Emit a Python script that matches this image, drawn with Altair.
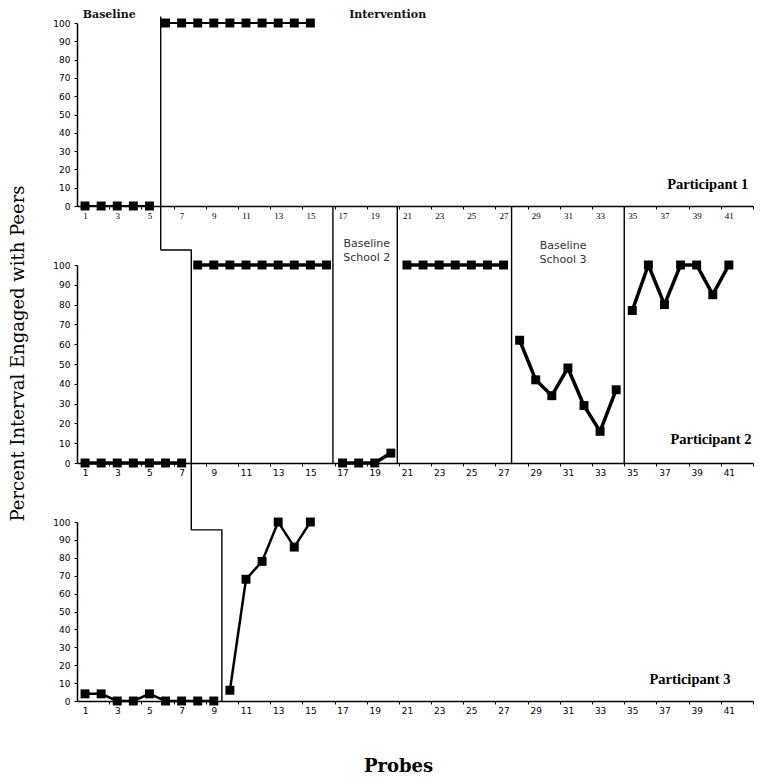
import altair as alt
import pandas as pd

# ---------------- data ----------------
odd_ticks = [1, 3, 5, 7, 9, 11, 13, 15, 17, 19, 21, 23, 25, 27, 29, 31, 33, 35, 37, 39, 41]
y_ticks = [0, 10, 20, 30, 40, 50, 60, 70, 80, 90, 100]

# Participant 1
p1_probe = [1, 2, 3, 4, 5, 6, 7, 8, 9, 10, 11, 12, 13, 14, 15]
p1_value = [0, 0, 0, 0, 0, 100, 100, 100, 100, 100, 100, 100, 100, 100, 100]
p1_phase = ["BL", "BL", "BL", "BL", "BL", "TX", "TX", "TX", "TX", "TX", "TX", "TX", "TX", "TX", "TX"]

# Participant 2
p2_probe = [1, 2, 3, 4, 5, 6, 7, 8, 9, 10, 11, 12, 13, 14, 15, 16, 17, 18, 19, 20,
            21, 22, 23, 24, 25, 26, 27, 28, 29, 30, 31, 32, 33, 34, 35, 36, 37, 38, 39, 40, 41]
p2_value = [0, 0, 0, 0, 0, 0, 0, 100, 100, 100, 100, 100, 100, 100, 100, 100, 0, 0, 0, 5,
            100, 100, 100, 100, 100, 100, 100, 62, 42, 34, 48, 29, 16, 37, 77, 100, 80, 100, 100, 85, 100]
p2_phase = ["BL1"] * 7 + ["TX1"] * 9 + ["BL2"] * 4 + ["TX2"] * 7 + ["BL3"] * 7 + ["TX3"] * 7

# Participant 3
p3_probe = [1, 2, 3, 4, 5, 6, 7, 8, 9, 10, 11, 12, 13, 14, 15]
p3_value = [4, 4, 0, 0, 4, 0, 0, 0, 0, 6, 68, 78, 100, 86, 100]
p3_phase = ["BL", "BL", "BL", "BL", "BL", "BL", "BL", "BL", "BL", "TX", "TX", "TX", "TX", "TX", "TX"]

# phase-change (staircase) line, per panel, in data units
p1_path_x = [5.7, 5.7]
p1_path_y = [103.5, -24.0]
p2_path_x = [5.7, 7.6, 7.6]
p2_path_y = [107.6, 107.6, -33.8]
p3_path_x = [7.6, 9.5, 9.5]
p3_path_y = [95.6, 95.6, 0]

# school-change lines in panel 2
p2_rules_x = [16.4, 20.4, 27.5, 34.5]
p2_rules_top = [129.8, 129.8, 129.8, 129.8]

# labels
p1_labels = ["Baseline", "Intervention"]
p1_labels_x = [2.5, 19.8]
p1_labels_y = [104.4, 104.4]
p2_labels = ["Baseline", "School 2", "Baseline", "School 3"]
p2_labels_x = [18.5, 18.5, 30.7, 30.7]
p2_labels_y = [110.8, 103.5, 109.6, 102.5]
part_labels = ["Participant 1", "Participant 2", "Participant 3"]
part_x = [42.2, 42.4, 41.1]
part_y = [11.5, 11.6, 11.7]

# ---------------- layout ----------------
W = 676
H1, H2, H3 = 183, 198, 179
SHIFT = 1.5 * W / 42


def xenc(font, title=None):
    kw = dict(values=odd_ticks, tickOffset=SHIFT, labelOffset=-SHIFT, grid=False,
              tickSize=3, labelFont=font, labelFontSize=9, labelPadding=2,
              labelFlush=False, labelOverlap=False, domainWidth=1.5, domainColor="black",
              tickColor="black", labelColor="black")
    if title:
        kw.update(title=title, titleFont="DejaVu Serif", titleFontSize=18, titleFontWeight="bold",
                  titleX=321, titleY=65, titleBaseline="middle", titleColor="black")
    else:
        kw.update(title=None)
    return alt.X("probe", type="quantitative",
                 scale=alt.Scale(domain=[0.5, 42.5], nice=False, zero=False),
                 axis=alt.Axis(**kw))


def yenc(title=None):
    kw = dict(values=y_ticks, grid=False, tickSize=3, labelFont="DejaVu Sans", labelFontSize=9,
              labelPadding=4, domainWidth=1.5, domainColor="black", tickColor="black",
              labelColor="black", labelFlush=False, labelOverlap=False)
    if title:
        kw.update(title=title, titleFont="DejaVu Serif", titleFontSize=18, titleFontWeight="normal",
                  titleX=-50, titleY=88, titleColor="black")
    else:
        kw.update(title=None)
    return alt.Y("value", type="quantitative",
                 scale=alt.Scale(domain=[0, 100], nice=False, zero=False),
                 axis=alt.Axis(**kw))


def panel(probe, value, phase, path_x, path_y, part_i, lw, xfont, ytitle=None, xtitle=None):
    X = xenc(xfont, xtitle)
    Y = yenc(ytitle)
    df = pd.DataFrame({"probe": probe, "value": value, "phase": phase})
    path = pd.DataFrame({"probe": path_x, "value": path_y, "i": list(range(len(path_x)))})
    part = pd.DataFrame({"probe": [part_x[part_i]], "value": [part_y[part_i]], "label": [part_labels[part_i]]})
    line = alt.Chart(df).mark_line(color="black", strokeWidth=lw).encode(x=X, y=Y, detail="phase:N")
    pts = alt.Chart(df).mark_point(shape="square", filled=True, size=80, color="black", opacity=1).encode(
        x=X, y=Y)
    ph = alt.Chart(path).mark_line(color="black", strokeWidth=1.4).encode(x=X, y=Y, order="i:Q")
    pt = alt.Chart(part).mark_text(align="right", baseline="middle", font="Liberation Serif",
                                   fontSize=14.5, fontWeight="bold", color="black").encode(
        x=X, y=Y, text="label:N")
    return X, Y, [line, pts, ph, pt]


# Panel 1
X1, Y1, l1 = panel(p1_probe, p1_value, p1_phase, p1_path_x, p1_path_y, 0, 2.2, "Liberation Serif")
t1 = alt.Chart(pd.DataFrame({"probe": p1_labels_x, "value": p1_labels_y, "label": p1_labels})).mark_text(
    font="DejaVu Serif", fontSize=11, fontWeight="bold", baseline="middle", color="#111111").encode(
    x=X1, y=Y1, text="label:N")
c1 = alt.layer(*l1, t1).properties(width=W, height=H1)

# Panel 2
X2, Y2, l2 = panel(p2_probe, p2_value, p2_phase, p2_path_x, p2_path_y, 1, 3.5, "DejaVu Sans",
                   ytitle="Percent Interval Engaged with Peers")
r2 = alt.Chart(pd.DataFrame({"probe": p2_rules_x, "value": [0, 0, 0, 0], "value2": p2_rules_top})).mark_rule(
    color="black", strokeWidth=1.4).encode(x=X2, y=Y2, y2="value2")
t2 = alt.Chart(pd.DataFrame({"probe": p2_labels_x, "value": p2_labels_y, "label": p2_labels})).mark_text(
    font="DejaVu Sans", fontSize=11, baseline="middle", color="#333333").encode(x=X2, y=Y2, text="label:N")
c2 = alt.layer(*l2, r2, t2).properties(width=W, height=H2)

# Panel 3
X3, Y3, l3 = panel(p3_probe, p3_value, p3_phase, p3_path_x, p3_path_y, 2, 2.5, "DejaVu Sans", xtitle="Probes")
c3 = alt.layer(*l3).properties(width=W, height=H3)

chart = alt.vconcat(c1, c2, c3, spacing=59, bounds="flush").properties(
    padding=0, background="white").configure_view(strokeWidth=0)

chart.save("out.html", embed_options={"renderer": "svg", "actions": False})
